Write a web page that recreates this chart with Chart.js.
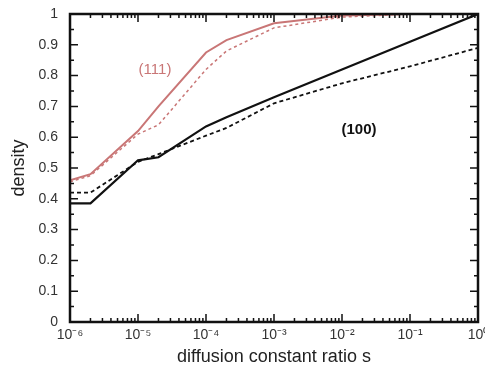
<!DOCTYPE html>
<html>
<head>
<meta charset="utf-8">
<script src="https://cdn.jsdelivr.net/npm/chart.js@4.4.1/dist/chart.umd.min.js"></script>
<style>
  html, body { margin:0; padding:0; background:#fff; }
  #wrap { width:485px; height:370px; position:relative; }
</style>
</head>
<body>
<div id="wrap"><canvas id="chart" width="485" height="370"></canvas></div>
<script>
// diffusion constant ratio s (x values)
const S_VALUES = [1e-6, 2e-6, 1e-5, 2e-5, 1e-4, 2e-4, 1e-3, 1e-2, 1e-1, 1];
// (111) surface, red curves
const RED_SOLID  = [0.46, 0.48, 0.62, 0.70, 0.875, 0.915, 0.97, 0.995, 1.0, 1.0];
const RED_DASHED = [0.455, 0.475, 0.61, 0.64, 0.82, 0.88, 0.955, 0.99, 1.0, 1.0];
// (100) surface, black curves
const BLACK_SOLID  = [0.385, 0.385, 0.525, 0.535, 0.635, 0.665, 0.73, 0.82, 0.91, 1.0];
const BLACK_DASHED = [0.42, 0.42, 0.52, 0.545, 0.605, 0.63, 0.71, 0.775, 0.83, 0.89];

const X_TICKS = [1e-6, 1e-5, 1e-4, 1e-3, 1e-2, 1e-1, 1];
const X_TICK_LABELS = ['10⁻⁶', '10⁻⁵', '10⁻⁴', '10⁻³', '10⁻²', '10⁻¹', '10⁰'];
const Y_TICKS = [0, 0.1, 0.2, 0.3, 0.4, 0.5, 0.6, 0.7, 0.8, 0.9, 1];
const Y_TICK_LABELS = ['0', '0.1', '0.2', '0.3', '0.4', '0.5', '0.6', '0.7', '0.8', '0.9', '1'];

const RED = '#c97676';
const FONT = '"Liberation Sans", Arial, sans-serif';

function pts(ys) { return S_VALUES.map((s, i) => ({ x: s, y: ys[i] })); }

// inward tick marks on all four sides plus the curve labels
const frameTicks = {
  id: 'frameTicks',
  afterDatasetsDraw(chart) {
    const { ctx, chartArea: a, scales: { x, y } } = chart;
    ctx.save();
    ctx.strokeStyle = '#111';
    ctx.lineWidth = 1.5;
    ctx.beginPath();
    for (let e = -6; e <= 0; e++) {
      for (let m = 1; m <= 9; m++) {
        const v = m * Math.pow(10, e);
        if (v > 1) break;
        const px = x.getPixelForValue(v);
        const len = m === 1 ? 8 : 4;
        ctx.moveTo(px, a.bottom); ctx.lineTo(px, a.bottom - len);
        ctx.moveTo(px, a.top); ctx.lineTo(px, a.top + len);
      }
    }
    for (let k = 0; k <= 20; k++) {
      const py = y.getPixelForValue(k * 0.05);
      const len = k % 2 === 0 ? 8 : 4;
      ctx.moveTo(a.left, py); ctx.lineTo(a.left + len, py);
      ctx.moveTo(a.right, py); ctx.lineTo(a.right - len, py);
    }
    ctx.stroke();
    ctx.lineWidth = 2.5;
    ctx.strokeRect(a.left, a.top, a.right - a.left, a.bottom - a.top);

    ctx.font = '15px ' + FONT;
    ctx.textAlign = 'center';
    ctx.textBaseline = 'middle';
    ctx.fillStyle = RED;
    ctx.fillText('(111)', x.getPixelForValue(Math.pow(10, -4.75)), y.getPixelForValue(0.82));
    ctx.fillStyle = '#111';
    ctx.font = 'bold 15px ' + FONT;
    ctx.fillText('(100)', x.getPixelForValue(Math.pow(10, -1.75)), y.getPixelForValue(0.623));
    ctx.restore();
  }
};

new Chart(document.getElementById('chart'), {
  type: 'line',
  data: {
    datasets: [
      { data: pts(RED_SOLID), borderColor: RED, borderWidth: 2 },
      { data: pts(RED_DASHED), borderColor: RED, borderWidth: 1.5, borderDash: [3, 3] },
      { data: pts(BLACK_SOLID), borderColor: '#111', borderWidth: 2.2 },
      { data: pts(BLACK_DASHED), borderColor: '#111', borderWidth: 1.8, borderDash: [4, 3] }
    ]
  },
  options: {
    responsive: false,
    animation: false,
    layout: { padding: { top: 14, right: 7, left: 8, bottom: 2 } },
    elements: { point: { radius: 0 }, line: { tension: 0 } },
    plugins: { legend: { display: false }, tooltip: { enabled: false } },
    scales: {
      x: {
        type: 'logarithmic', min: 1e-6, max: 1,
        afterBuildTicks: s => { s.ticks = X_TICKS.map(v => ({ value: v })); },
        afterFit: s => { s.height = 46; s.paddingRight = 0; s.paddingLeft = 0; },
        ticks: {
          autoSkip: false, maxRotation: 0, padding: 5,
          color: '#333', font: { family: FONT, size: 14 },
          callback: (v, i) => X_TICK_LABELS[i]
        },
        grid: { display: false, tickLength: 0 },
        border: { display: false },
        title: { display: true, text: 'diffusion constant ratio s', color: '#222',
                 font: { family: FONT, size: 18 }, padding: { top: 0, bottom: 0 } }
      },
      y: {
        min: 0, max: 1,
        afterBuildTicks: s => { s.ticks = Y_TICKS.map(v => ({ value: v })); },
        afterFit: s => { s.width = 62; s.paddingTop = 0; s.paddingBottom = 0; },
        ticks: {
          autoSkip: false, padding: 4,
          color: '#333', font: { family: FONT, size: 14 },
          callback: (v, i) => Y_TICK_LABELS[i]
        },
        grid: { display: false },
        border: { display: false },
        title: { display: true, text: 'density', color: '#222',
                 font: { family: FONT, size: 18 }, padding: { top: 0, bottom: 4 } }
      }
    }
  },
  plugins: [frameTicks]
});
</script>
</body>
</html>
